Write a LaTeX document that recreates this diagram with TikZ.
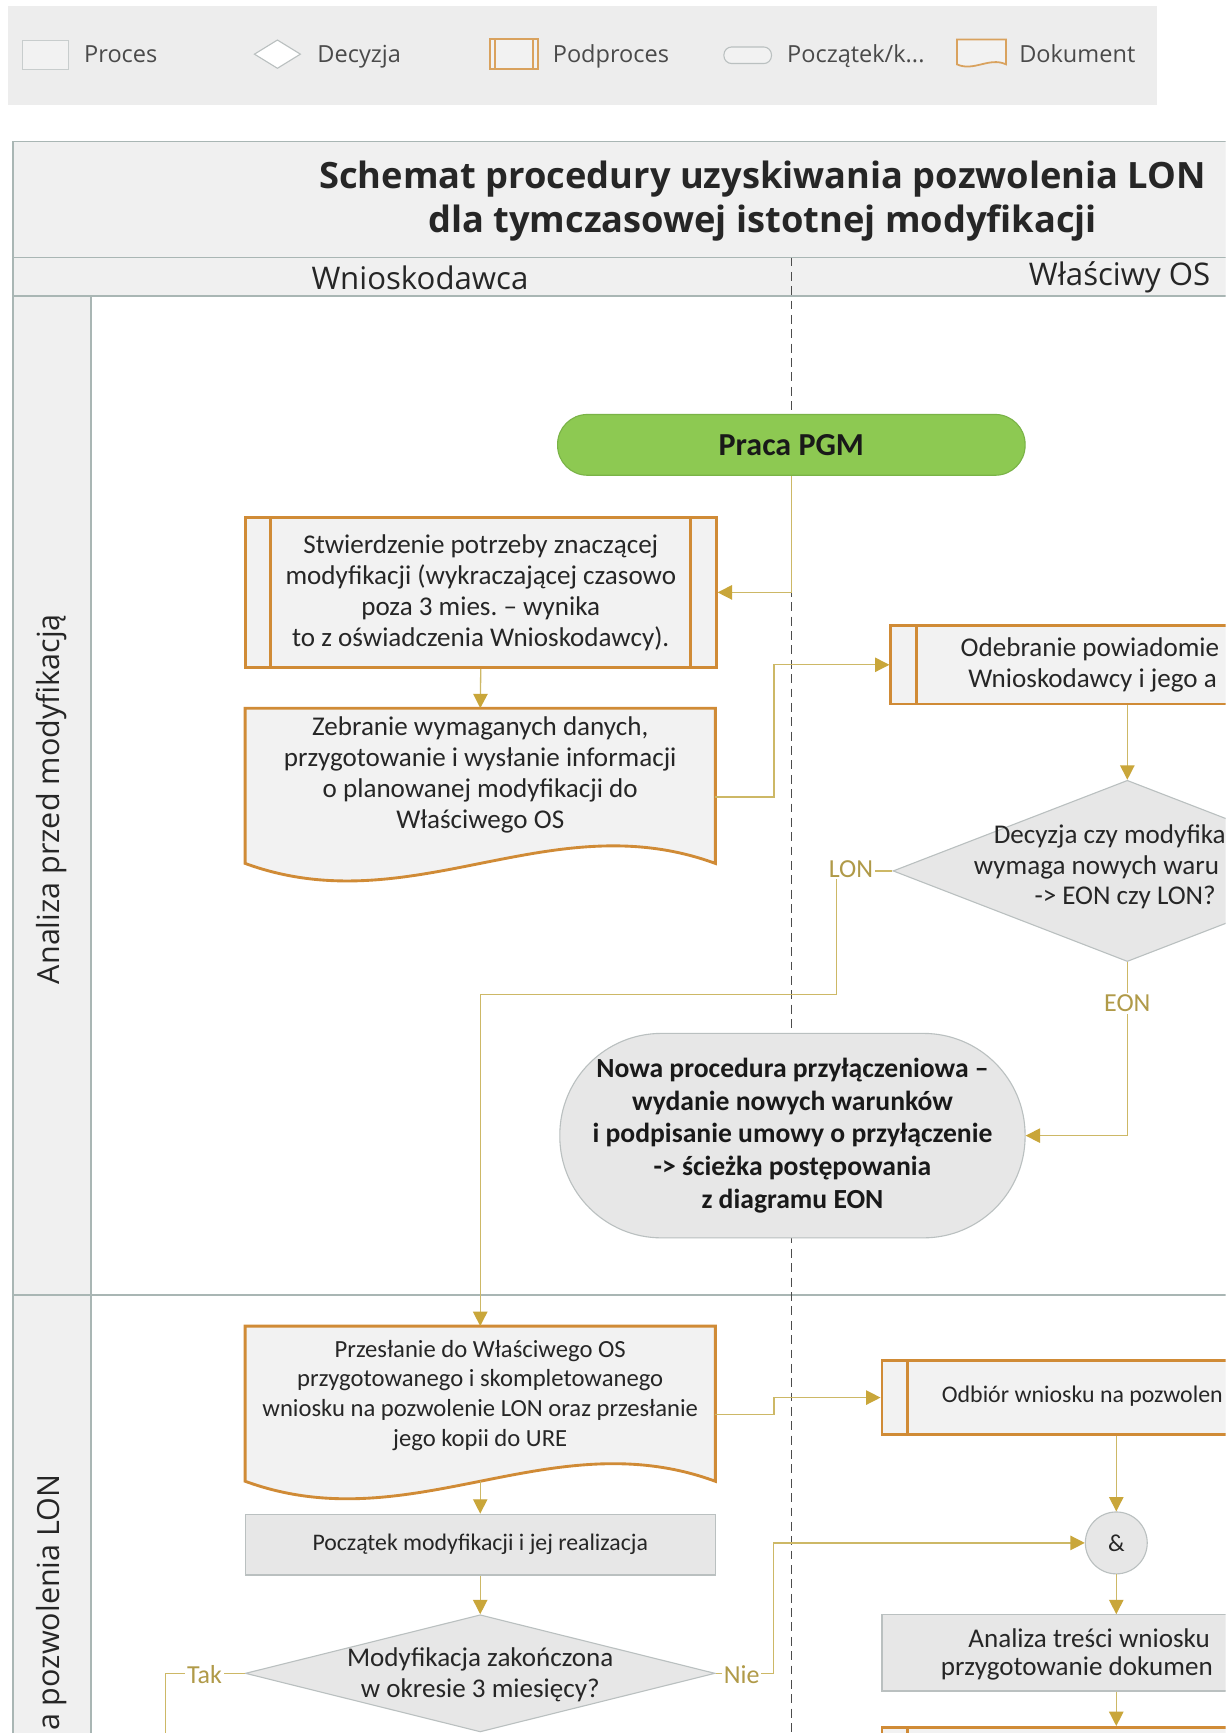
\documentclass[tikz,border=0pt]{standalone}
\usepackage{fontspec}
\setmainfont{Carlito}
\newfontfamily\uifont{Open Sans}
\usetikzlibrary{shapes.geometric,arrows.meta}
\frenchspacing
\definecolor{orng}{HTML}{D08B36}
\definecolor{conn}{HTML}{CDB866}
\definecolor{arr}{HTML}{C9A63A}
\definecolor{lbl}{HTML}{B09A48}
\definecolor{pbord}{HTML}{A9B6B4}
\definecolor{band}{HTML}{F0F0F0}
\definecolor{gfill}{HTML}{E7E7E7}
\definecolor{lfill}{HTML}{F2F2F2}
\definecolor{gbord}{HTML}{BAC0C0}
\definecolor{green1}{HTML}{8DC952}
\definecolor{green2}{HTML}{7AB347}
\definecolor{txt}{HTML}{262626}
\definecolor{legbg}{HTML}{EDEDED}
\definecolor{legtxt}{HTML}{4A4A4A}
\tikzset{
  body/.style={font=\fontsize{24.5}{28}\selectfont, align=center, text=txt, inner sep=0pt},
  bodys/.style={font=\fontsize{22.3}{27}\selectfont, align=center, text=txt, inner sep=0pt},
  subp/.style={rectangle, draw=orng, line width=2.6pt, fill=lfill, inner sep=0pt,
    path picture={\draw[orng, line width=2.6pt]
      ([xshift=23pt]path picture bounding box.north west) -- ([xshift=23pt]path picture bounding box.south west)
      ([xshift=-23pt]path picture bounding box.north east) -- ([xshift=-23pt]path picture bounding box.south east);}},
  docbox/.style={rectangle, inner sep=0pt},
  docline/.style={draw=orng, line width=2.6pt, fill=lfill, line join=miter},
  proc/.style={rectangle, draw=gbord, line width=1pt, fill=gfill, inner sep=0pt},
  dec/.style={diamond, draw=gbord, line width=1pt, fill=gfill, inner sep=0pt},
  cn/.style={draw=conn, line width=1.2pt},
  cna/.style={cn, -{Triangle[length=13pt, width=13pt, color=arr]}},
  lab/.style={font=\fontsize{23.5}{26}\selectfont, text=lbl, fill=white, inner sep=1.5pt},
  legt/.style={font=\uifont\fontsize{21.3}{24}\selectfont, text=legtxt, anchor=base west, inner sep=0pt},
  pool/.style={draw=pbord, line width=1.6pt},
  uihead/.style={font=\uifont\fontsize{28.2}{32}\selectfont, text=txt},
}
\begin{document}
\begin{tikzpicture}[x=1pt, y=-1pt]
\useasboundingbox (0,0) rectangle (1109,1568);
\clip (0,0) rectangle (1109,1568);
\fill[white] (0,0) rectangle (1109,1568);

% ---------- legend ----------
\fill[legbg] (7,5) rectangle (1047,95);
\node[rectangle, draw=gbord!80, fill=lfill, line width=1pt, minimum width=42pt, minimum height=26pt] (lp) at (41,50) {};
\node[legt] (lpt) at (76,57) {Proces};
\node[diamond, draw=gbord, fill=white, line width=1pt, inner sep=0pt, minimum width=42pt, minimum height=26pt] (ld) at (251,49) {};
\node[legt] (ldt) at (287,57) {Decyzja};
\node[rectangle, draw=orng!80, fill=lfill, line width=1.6pt, minimum width=44pt, minimum height=27pt,
  path picture={\draw[orng!80, line width=1.4pt]
      ([xshift=5pt]path picture bounding box.north west) -- ([xshift=5pt]path picture bounding box.south west)
      ([xshift=-5pt]path picture bounding box.north east) -- ([xshift=-5pt]path picture bounding box.south east);}] (lsp) at (465,49) {};
\node[legt] (lspt) at (500,57) {Podproces};
\node[rectangle, rounded corners=7pt, draw=gbord, fill=lfill, line width=1pt, minimum width=43pt, minimum height=15pt] (lt) at (676.5,50) {};
\node[legt] (ltt) at (712,57) {Początek/k...};
\node[docbox, minimum width=44pt, minimum height=22pt] (ldk) at (888,47) {};
\draw[draw=orng!80, line width=1.6pt, fill=lfill] (ldk.north west) -- (ldk.north east) -- (ldk.south east)
  .. controls +(-15,-7) and +(15,7) .. (ldk.south west) -- cycle;
\node[legt] (ldkt) at (922,57) {Dokument};

% ---------- pool ----------
\fill[band] (12,128) rectangle (1368,268);
\fill[band] (12,268) rectangle (82,1600);
\draw[pool] (12,128) -- (1368,128);
\draw[pool] (12,233) -- (1368,233);
\draw[pool] (12,268) -- (1368,268);
\draw[pool] (12,128) -- (12,1600);
\draw[pool] (82,268) -- (82,1600);
\draw[pool] (12,1172) -- (1368,1172);
\draw[color=black!70, line width=1.1pt, dash pattern=on 8pt off 5pt] (716,233) -- (716,1600);

\node[font=\uifont\bfseries\fontsize{32.8}{40}\selectfont, align=center, text=txt] (title) at (690,182)
  {Schemat procedury uzyskiwania pozwolenia LON\\dla tymczasowej istotnej modyfikacji};
\node[uihead] (lane1) at (380,251) {Wnioskodawca};
\node[uihead] (lane2) at (1013,251) {Właściwy OS};
\node[font=\uifont\fontsize{27.6}{30}\selectfont, text=txt, rotate=90] (ph1) at (47,723) {Analiza przed modyfikacją};
\node[font=\uifont\fontsize{27.6}{30}\selectfont, text=txt, rotate=90, anchor=east, inner sep=0pt] (ph2) at (47,1334) {a pozwolenia LON};

% ---------- nodes ----------
\node[rectangle, rounded corners=27pt, draw=green2, fill=green1, line width=1pt, minimum width=423pt, minimum height=55pt,
  font=\bfseries\fontsize{29}{32}\selectfont, text=black!90] (praca) at (716,402.5) {Praca PGM};

\node[subp, body, minimum width=426pt, minimum height=136pt] (stw) at (435,536)
  {Stwierdzenie potrzeby znaczącej\\modyfikacji (wykraczającej czasowo\\poza 3 mies. – wynika\\to z oświadczenia Wnioskodawcy).};

\node[docbox, minimum width=425pt, minimum height=140pt] (zeb) at (434.5,711) {};
\draw[docline] (zeb.north west) -- (zeb.north east) -- (zeb.south east)
  .. controls +(-150,-55) and +(150,55) .. (zeb.south west) -- cycle;
\node[body] (zebT) at (434.5,701.5)
  {Zebranie wymaganych danych,\\przygotowanie i wysłanie informacji\\o planowanej modyfikacji do\\Właściwego OS};

\node[subp, minimum width=428pt, minimum height=71pt] (ode) at (1020,601.5) {};
\node[body, anchor=west] (odeT1) at (869,587.5) {Odebranie powiadomie};
\node[body, anchor=west] (odeT2) at (876,616) {Wnioskodawcy i jego a};

\node[dec, minimum width=424pt, minimum height=164pt] (dec1) at (1020,788) {};
\node[body, anchor=west] (dec1a) at (899,757) {Decyzja czy modyfika};
\node[body, anchor=west] (dec1b) at (881,785) {wymaga nowych waru};
\node[body] (dec1c) at (1018,812) {-> EON czy LON?};

\node[rectangle, rounded corners=92pt, draw=gbord, fill=gfill, line width=1pt, minimum width=421pt, minimum height=185pt,
  font=\bfseries\fontsize{25}{29.5}\selectfont, align=center, text=black!90] (nowa) at (717,1027.5)
  {Nowa procedura przyłączeniowa –\\wydanie nowych warunków\\i podpisanie umowy o przyłączenie\\-> ścieżka postępowania\\z diagramu EON};

\node[docbox, minimum width=425pt, minimum height=140pt] (prz) at (434.5,1270) {};
\draw[docline] (prz.north west) -- (prz.north east) -- (prz.south east)
  .. controls +(-150,-55) and +(150,55) .. (prz.south west) -- cycle;
\node[bodys] (przT) at (434.5,1262.5)
  {Przesłanie do Właściwego OS\\przygotowanego i skompletowanego\\wniosku na pozwolenie LON oraz przesłanie\\jego kopii do URE};

\node[subp, minimum width=424pt, minimum height=67pt] (odb) at (1010,1264.5) {};
\node[font=\fontsize{21.6}{26}\selectfont, text=txt, inner sep=0pt, anchor=west] (odbT) at (852,1263) {Odbiór wniosku na pozwolen};

\node[proc, font=\fontsize{21.5}{26}\selectfont, text=txt, minimum width=425pt, minimum height=55pt] (pocz) at (434.5,1397.5) {Początek modyfikacji i jej realizacja};

\node[dec, minimum width=425pt, minimum height=106pt] (mod) at (434.5,1514) {};
\node[body] (modT) at (434.5,1515) {Modyfikacja zakończona\\w okresie 3 miesięcy?};

\node[circle, draw=gbord, fill=gfill, line width=1pt, minimum size=56pt, inner sep=0pt,
  font=\fontsize{22}{24}\selectfont, text=txt] (amp) at (1010,1396) {\&};

\node[proc, minimum width=424pt, minimum height=69pt] (ana) at (1010,1495.5) {};
\node[body, anchor=west] (anaT1) at (876,1482) {Analiza treści wniosku};
\node[body, anchor=west] (anaT2) at (851,1510) {przygotowanie dokumen};

\node[subp, minimum width=424pt, minimum height=94pt] (nxt) at (1010,1610) {};

% ---------- connectors ----------
\coordinate (lonc) at (757,900);
\coordinate (takend) at (150,1600);
\coordinate (niec) at (700,1396);
\draw[cna] (praca.south) |- (stw.east);
\draw[cna] (stw.south) -- (zeb.north);
\draw[cna] ([yshift=-10pt]zeb.east) -- ++(53,0) |- (ode.west);
\draw[cna] (ode.south) -- (dec1.north);
\draw[cna] (dec1.west) -| (lonc) -| (prz.north);
\draw[cna] (dec1.south) |- (nowa.east);
\draw[cna] ([yshift=-10pt]prz.east) -- ++(53,0) |- (odb.west);
\draw[cna] (prz.south) -- (pocz.north);
\draw[cna] (pocz.south) -- (mod.north);
\draw[cn] (mod.west) -| (takend);
\draw[cna] (mod.east) -| (niec) -- (amp.west);
\draw[cna] (odb.south) -- (amp.north);
\draw[cna] (amp.south) -- (ana.north);
\draw[cna] (ana.south) -- (nxt.north);

\node[lab] (lon) at (770,786) {LON};
\node[lab] (eon) at (1020,908) {EON};
\node[lab] (tak) at (185,1515) {Tak};
\node[lab] (nie) at (671,1515) {Nie};
\end{tikzpicture}
\end{document}
